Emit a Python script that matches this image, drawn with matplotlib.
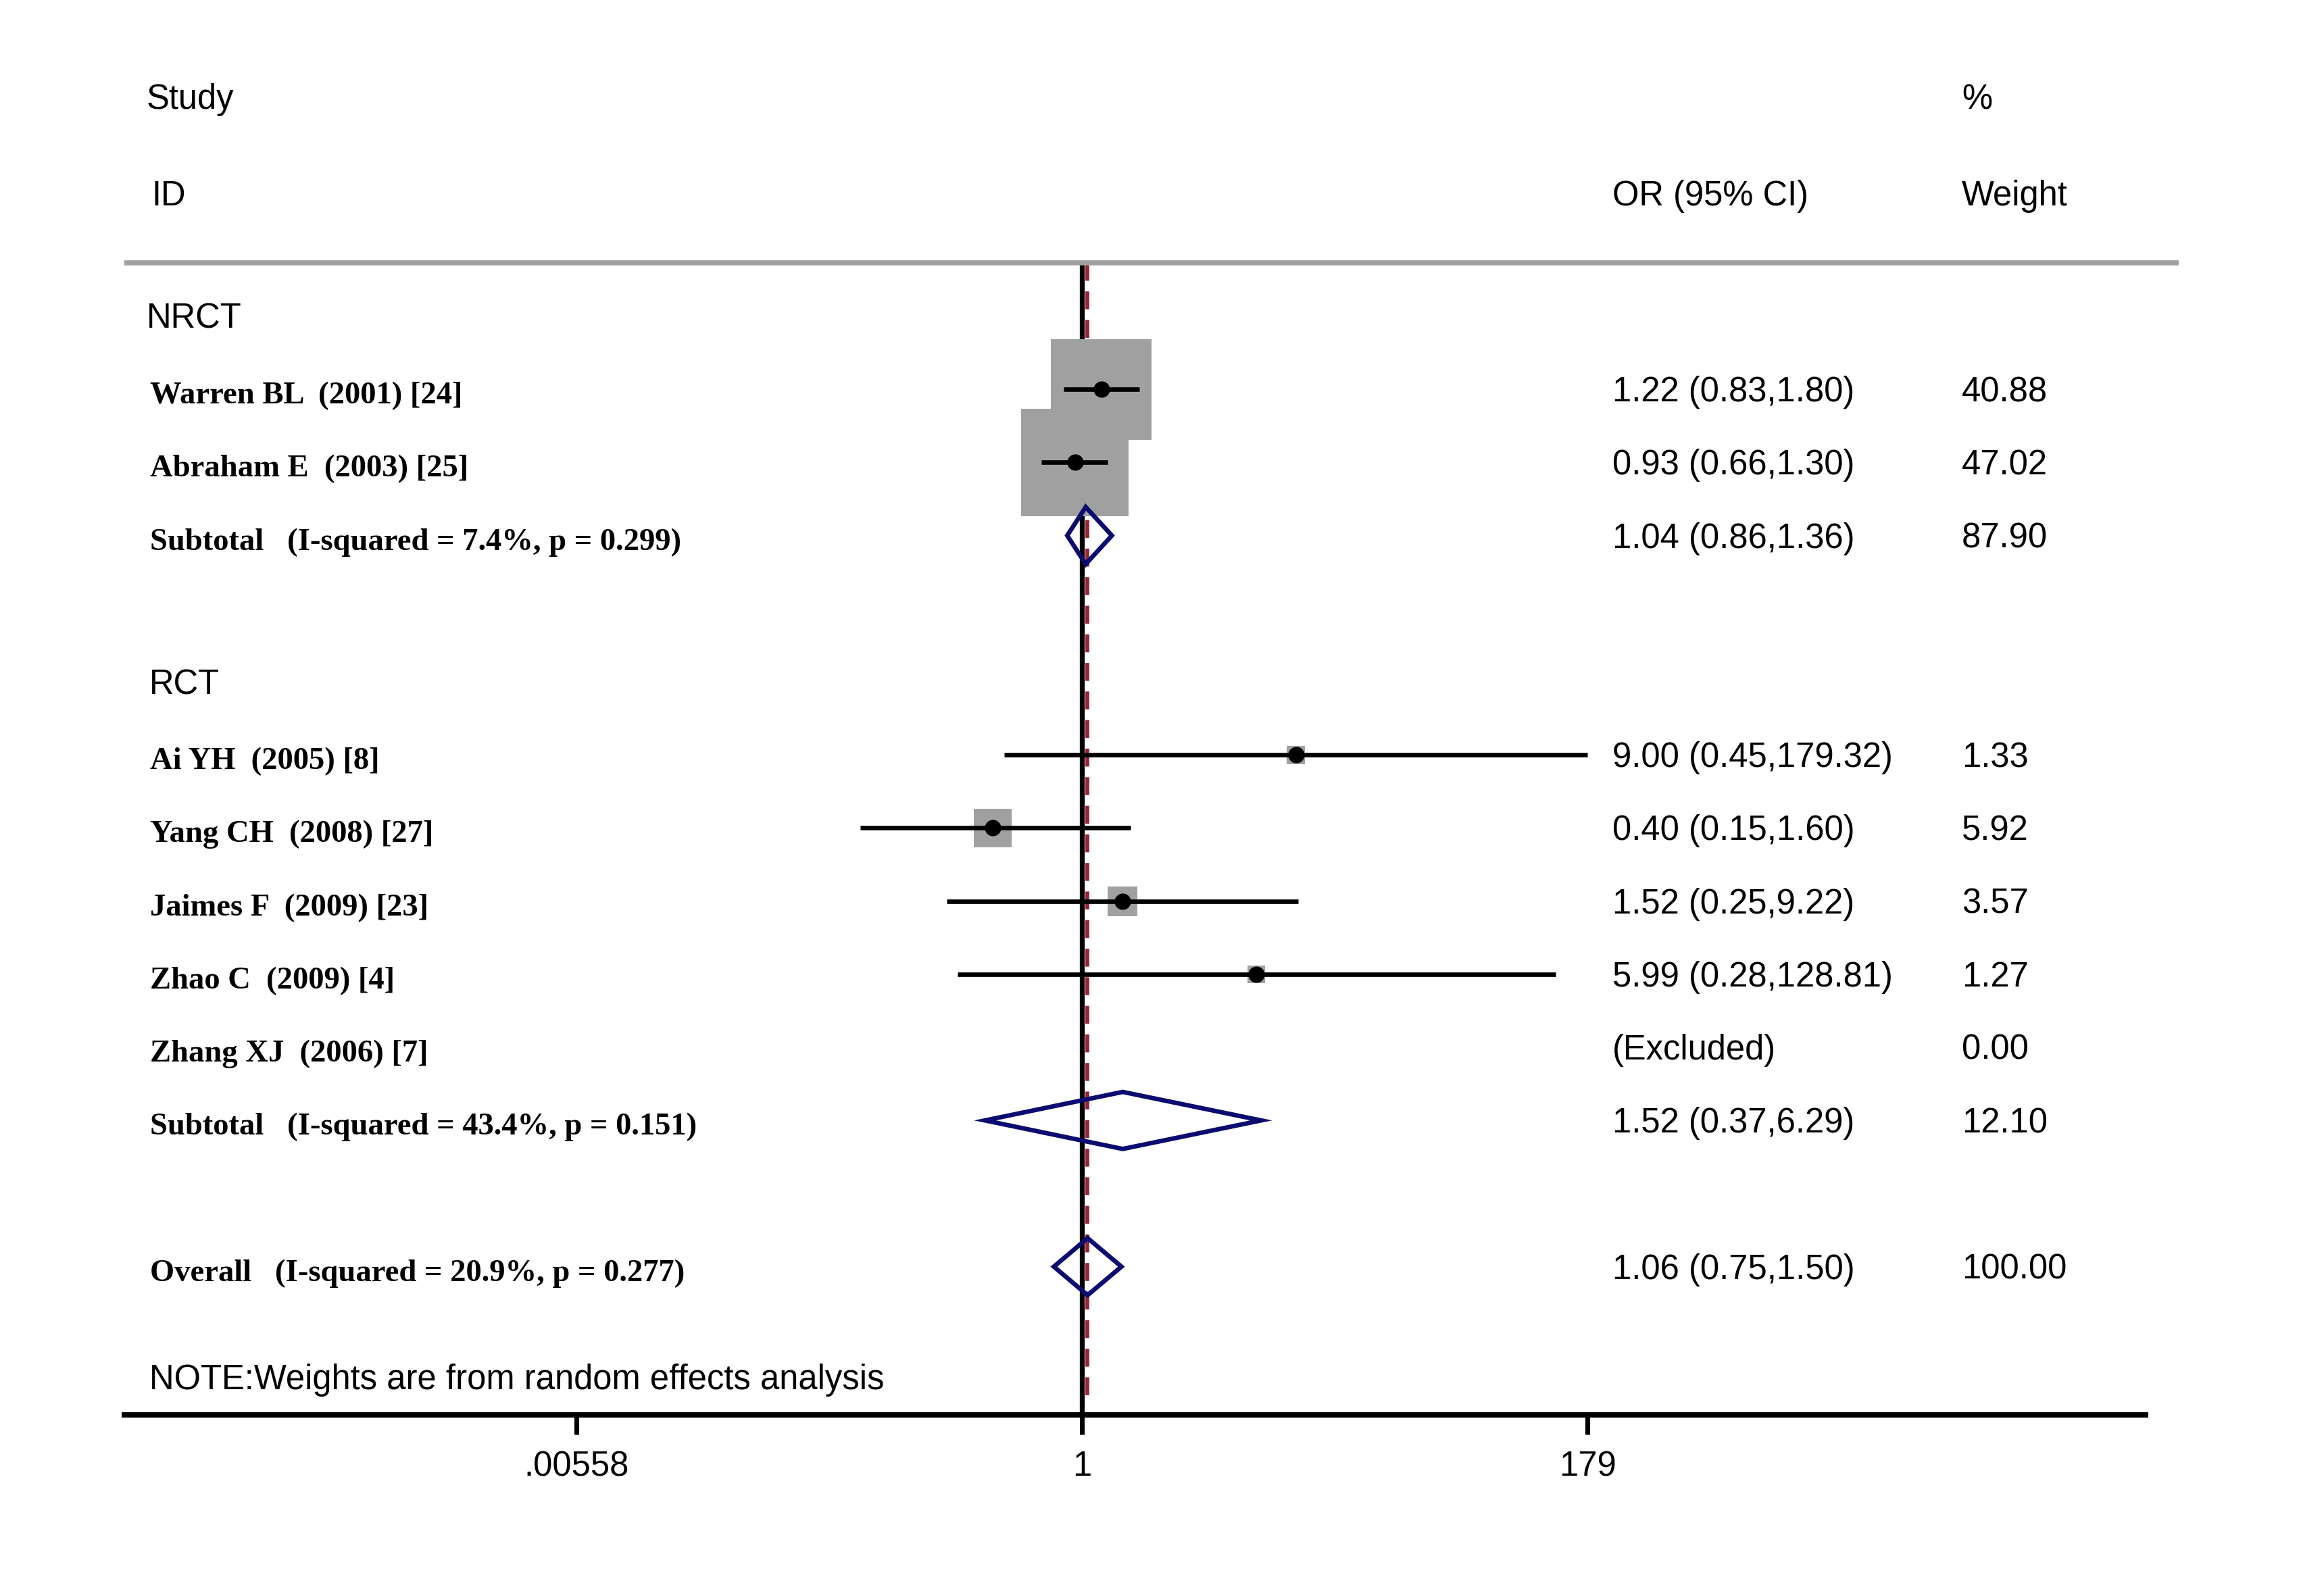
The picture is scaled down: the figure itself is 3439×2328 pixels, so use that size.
import numpy as np
import matplotlib
matplotlib.use("Agg")
import matplotlib.pyplot as plt
from matplotlib.patches import Rectangle, Polygon

# data
nrct_names = ["Warren BL  (2001) [24]", "Abraham E  (2003) [25]"]
nrct_or = [1.22, 0.93]
nrct_lo = [0.83, 0.66]
nrct_hi = [1.80, 1.30]
nrct_wt = [40.88, 47.02]
nrct_sub = [1.04, 0.86, 1.36]
nrct_sub_wt = 87.90
nrct_sub_label = "Subtotal   (I-squared = 7.4%, p = 0.299)"

rct_names = ["Ai YH  (2005) [8]", "Yang CH  (2008) [27]", "Jaimes F  (2009) [23]",
             "Zhao C  (2009) [4]", "Zhang XJ  (2006) [7]"]
rct_or = [9.00, 0.40, 1.52, 5.99, None]
rct_lo = [0.45, 0.15, 0.25, 0.28, None]
rct_hi = [179.32, 1.60, 9.22, 128.81, None]
rct_wt = [1.33, 5.92, 3.57, 1.27, 0.00]
# CI ends as drawn in the picture (Yang's line is longer than its label)
rct_lo_line = [0.45, 0.103, 0.25, 0.28, None]
rct_hi_line = [179.32, 1.65, 9.22, 128.81, None]
rct_sub = [1.52, 0.37, 6.29]
rct_sub_wt = 12.10
rct_sub_label = "Subtotal   (I-squared = 43.4%, p = 0.151)"

overall = [1.06, 0.75, 1.50]
overall_wt = 100.00
overall_label = "Overall   (I-squared = 20.9%, p = 0.277)"

tick_vals = [0.00558, 1, 179]
tick_labels = [".00558", "1", "179"]

# layout (pixels of the 3439x2328 picture)
W, H = 3439, 2328
X0, KX = 1601, 144.2   # x pixel of OR=1, pixels per ln unit
Y0, KY = 468, 108.2    # y pixel of first row, pixels per row

def cx(px):
    return (px - X0) / KX

fig = plt.figure(figsize=(W / 300, H / 300), dpi=300)
ax = fig.add_axes([0, 0, 1, 1])
ax.set_xlim(cx(0), cx(W))
ax.set_ylim((H - Y0) / KY, -Y0 / KY)
for s in ["top", "left", "right"]:
    ax.spines[s].set_visible(False)
ax.set_yticks([])

sans = "Liberation Sans"
serif = "Liberation Serif"
fs_s = 12.2
fs_r = 11.2
off_s = 18 / KY
off_r = 21 / KY

lab_x = cx(217)
name_x = cx(222)
or_x = cx(2386)
wt_x = cx(2903)

navy = "#0b0b70"
boxgray = "#a0a0a0"
red = "#9b2335"

def stext(x, y, t):
    ax.text(x, y + off_s, t, family=sans, fontsize=fs_s, va="baseline", ha="left")

def rtext(x, y, t):
    ax.text(x, y + off_r, t, family=serif, fontsize=fs_r, fontweight="bold", va="baseline", ha="left")

# headers
stext(lab_x, -3.0, "Study")
stext(lab_x + 0.05, -1.68, "ID")
stext(or_x, -1.68, "OR (95% CI)")
stext(wt_x, -3.0, "%")
stext(wt_x, -1.68, "Weight")
ax.plot([cx(184), cx(3224)], [-0.73, -0.73], color="#a0a0a0", lw=1.8, solid_capstyle="butt")

# reference lines
ax.plot([0, 0], [-0.73, 15.03], color="black", lw=1.75, zorder=1)
ax.plot([np.log(overall[0])] * 2, [-0.73, 14.85], color=red, lw=1.4, zorder=1,
        linestyle=(0, (4.55, 2.7)))

def study(row, name, o, lo, hi, w, lo_l, hi_l):
    rtext(name_x, row, name)
    if o is None:
        stext(or_x, row, "(Excluded)")
    else:
        side = 23.3 * np.sqrt(w)
        bw, bh = side / KX, side / KY
        ax.add_patch(Rectangle((np.log(o) - bw / 2, row - bh / 2), bw, bh,
                               facecolor=boxgray, edgecolor="none", zorder=2))
        ax.plot([np.log(lo_l), np.log(hi_l)], [row, row], color="black", lw=1.6,
                solid_capstyle="butt", zorder=3)
        ax.plot(np.log(o), row, "o", color="black", ms=4.8, zorder=4)
        stext(or_x, row, "%.2f (%.2f,%.2f)" % (o, lo, hi))
    stext(wt_x, row, "%.2f" % w)

def diamond(row, name, est, w, h=0.39):
    o, lo, hi = est
    pts = [(np.log(lo), row), (np.log(o), row - h), (np.log(hi), row), (np.log(o), row + h)]
    ax.add_patch(Polygon(pts, closed=True, fill=False, edgecolor=navy, lw=1.6,
                         joinstyle="miter", zorder=3))
    rtext(name_x, row, name)
    stext(or_x, row, "%.2f (%.2f,%.2f)" % (o, lo, hi))
    stext(wt_x, row, "%.2f" % w)

stext(lab_x, 0, "NRCT")
for i in range(len(nrct_names)):
    study(1 + i, nrct_names[i], nrct_or[i], nrct_lo[i], nrct_hi[i], nrct_wt[i],
          nrct_lo[i], nrct_hi[i])
diamond(3, nrct_sub_label, nrct_sub, nrct_sub_wt)

stext(lab_x + 0.03, 5, "RCT")
for i in range(len(rct_names)):
    study(6 + i, rct_names[i], rct_or[i], rct_lo[i], rct_hi[i], rct_wt[i],
          rct_lo_line[i], rct_hi_line[i])
diamond(11, rct_sub_label, rct_sub, rct_sub_wt)

diamond(13, overall_label, overall, overall_wt)

stext(lab_x + 0.03, 14.51, "NOTE:Weights are from random effects analysis")

# x axis
ax.spines["bottom"].set_position(("data", 15.03))
ax.spines["bottom"].set_bounds(cx(184), cx(3175))
ax.spines["bottom"].set_linewidth(1.9)
ax.set_xticks(np.log(tick_vals))
ax.set_xticklabels(tick_labels, family=sans, fontsize=fs_s)
ax.tick_params(axis="x", direction="out", length=7, width=1.7, pad=5.5)

fig.savefig("out.png", dpi=300)
